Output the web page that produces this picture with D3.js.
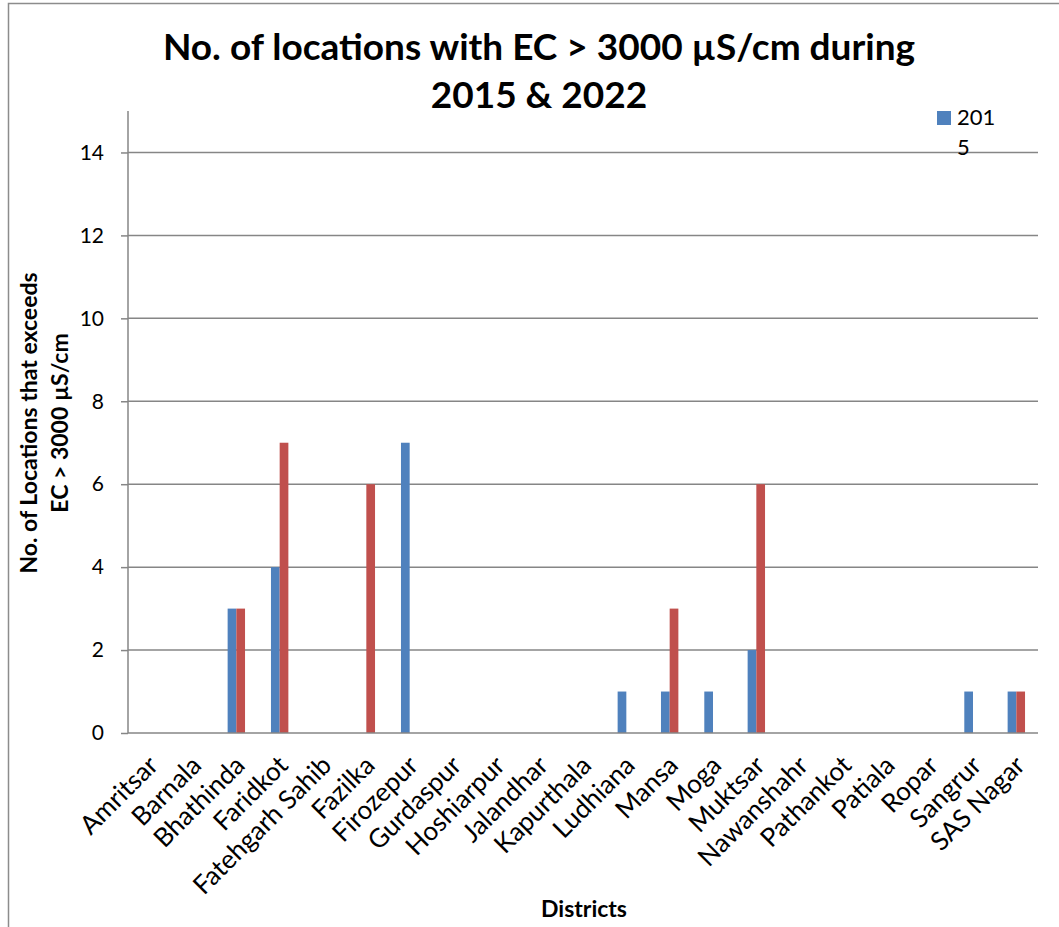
<!DOCTYPE html>
<html>
<head>
<meta charset="utf-8">
<script src="https://cdn.jsdelivr.net/npm/d3@7"></script>
<style>
  body { margin: 0; background: #fff; }
  svg { display: block; font-family: Lato, "Open Sans", sans-serif; }
</style>
</head>
<body>
<div id="chart"></div>
<script>
// districts and counts
var districts = ["Amritsar", "Barnala", "Bhathinda", "Faridkot", "Fatehgarh Sahib", "Fazilka",
  "Firozepur", "Gurdaspur", "Hoshiarpur", "Jalandhar", "Kapurthala", "Ludhiana", "Mansa",
  "Moga", "Muktsar", "Nawanshahr", "Pathankot", "Patiala", "Ropar", "Sangrur", "SAS Nagar"];
var series = ["2015", "2022"];
var values2015 = [0, 0, 3, 4, 0, 0, 7, 0, 0, 0, 0, 1, 1, 1, 2, 0, 0, 0, 0, 1, 1];
var values2022 = [0, 0, 3, 7, 0, 6, 0, 0, 0, 0, 0, 0, 3, 0, 6, 0, 0, 0, 0, 0, 1];
var yTicks = [0, 2, 4, 6, 8, 10, 12, 14];
var colors = ["#4F81BD", "#C0504D"];

var W = 1059, H = 927;
var margin = {top: 111, right: 21, bottom: 194, left: 128};
var width = W - margin.left - margin.right,
    height = H - margin.top - margin.bottom;

var svg = d3.select("#chart").append("svg")
  .attr("width", W)
  .attr("height", H);

// outer chart frame (only top & left edges show)
svg.append("rect")
  .attr("x", 8.5).attr("y", 3.5)
  .attr("width", W).attr("height", H)
  .attr("fill", "none")
  .attr("stroke", "#8c8c8c")
  .attr("stroke-width", 1.5);

var g = svg.append("g")
  .attr("transform", "translate(" + margin.left + "," + margin.top + ")");

var x = d3.scaleBand().domain(districts).range([0, width]).padding(0);
var xSub = d3.scaleBand().domain(series).range([0, x.bandwidth()]).paddingOuter(1.49);
var y = d3.scaleLinear().domain([0, 15]).range([height, 0]);

// gridlines
g.selectAll(".grid")
  .data(yTicks.slice(1))
  .enter().append("line")
  .attr("x1", 0).attr("x2", width)
  .attr("y1", function(d) { return y(d); })
  .attr("y2", function(d) { return y(d); })
  .attr("stroke", "#868686")
  .attr("stroke-width", 1.5);

// y axis
var yAxis = g.append("g")
  .call(d3.axisLeft(y).tickValues(yTicks).tickSize(7).tickPadding(17));
yAxis.select(".domain").attr("stroke", "#868686").attr("stroke-width", 1.5)
  .attr("d", "M0," + height + "V0");
yAxis.selectAll(".tick line").attr("stroke", "#868686").attr("stroke-width", 1.5);
yAxis.selectAll(".tick text").attr("font-size", 21).attr("fill", "#000")
  .attr("font-family", "Lato, sans-serif");

// bars
var data = districts.map(function(d, i) {
  return {district: d, vals: [values2015[i], values2022[i]]};
});

var groups = g.selectAll(".grp")
  .data(data)
  .enter().append("g")
  .attr("transform", function(d) { return "translate(" + x(d.district) + ",0)"; });

groups.selectAll("rect")
  .data(function(d) { return d.vals.map(function(v, k) { return {s: series[k], v: v, k: k}; }); })
  .enter().append("rect")
  .filter(function(d) { return d.v > 0; })
  .attr("x", function(d) { return xSub(d.s); })
  .attr("width", xSub.bandwidth())
  .attr("y", function(d) { return y(d.v); })
  .attr("height", function(d) { return height - y(d.v); })
  .attr("fill", function(d) { return colors[d.k]; });

// x axis line
g.append("line")
  .attr("x1", 0).attr("x2", width)
  .attr("y1", height).attr("y2", height)
  .attr("stroke", "#868686").attr("stroke-width", 1.5);

// x labels, rotated
g.selectAll(".xlab")
  .data(districts)
  .enter().append("text")
  .attr("transform", function(d) {
    return "translate(" + (x(d) + x.bandwidth() / 2 + 10) + "," + (height + 34) + ") rotate(-45)";
  })
  .attr("text-anchor", "end")
  .attr("font-size", 26)
  .text(function(d) { return d; });

// title
var title = svg.append("text")
  .attr("x", 539)
  .attr("text-anchor", "middle")
  .attr("font-size", 37)
  .attr("font-weight", "bold");
title.append("tspan").attr("x", 539).attr("y", 60).text("No. of locations with EC > 3000 µS/cm during");
title.append("tspan").attr("x", 539).attr("y", 108).text("2015 & 2022");

// y axis title
var yt = svg.append("text")
  .attr("transform", "translate(33,423) rotate(-90)")
  .attr("text-anchor", "middle")
  .attr("font-size", 23)
  .attr("font-weight", "bold");
yt.append("tspan").attr("x", 0).attr("y", 4).text("No. of Locations that exceeds");
yt.append("tspan").attr("x", 0).attr("y", 35).text("EC > 3000 µS/cm");

// x axis title
svg.append("text")
  .attr("x", 584).attr("y", 917)
  .attr("text-anchor", "middle")
  .attr("font-size", 23)
  .attr("font-weight", "bold")
  .text("Districts");

// legend (label wraps like the original)
var legend = svg.append("g").attr("transform", "translate(937,111)");
legend.append("rect").attr("width", 14).attr("height", 14).attr("fill", colors[0]);
var lt = legend.append("text").attr("font-size", 22);
lt.append("tspan").attr("x", 20).attr("y", 14).text(series[0].slice(0, 3));
lt.append("tspan").attr("x", 20).attr("y", 44).text(series[0].slice(3));
</script>
</body>
</html>
